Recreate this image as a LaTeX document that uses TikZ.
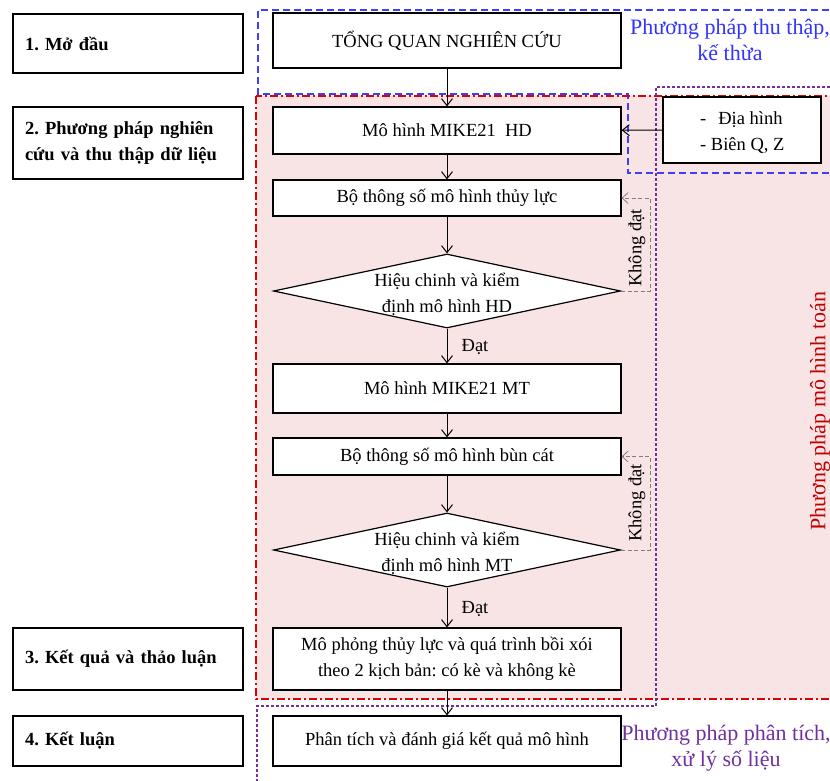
\documentclass[tikz,border=0pt]{standalone}
\usepackage{fontspec}
\setmainfont{Liberation Serif}
\usetikzlibrary{arrows.meta,shapes.geometric}
\definecolor{pinkbg}{HTML}{F8E4E4}
\definecolor{bluedash}{HTML}{3F3FF5}
\definecolor{bluetext}{HTML}{3333FF}
\definecolor{reddash}{HTML}{E00000}
\definecolor{redtext}{HTML}{C00000}
\definecolor{purp}{HTML}{7030A0}
\definecolor{fbgray}{HTML}{7F7F7F}
\newcommand\myfs{\fontsize{18.5}{26}\selectfont}
\newcommand\annfs{\fontsize{22}{26}\selectfont}
\frenchspacing
\begin{document}
\frenchspacing
\begin{tikzpicture}[x=1pt,y=-1pt,
  box/.style={draw=black, line width=1.2pt, fill=white, inner sep=0pt, align=center, font=\myfs, minimum width=348pt},
  lbox/.style={draw=black, line width=1.2pt, fill=white, minimum width=230pt, text width=206pt, inner xsep=12pt, inner ysep=0pt, align=left, font=\bfseries\myfs},
  dia/.style={diamond, draw=black, line width=1.2pt, fill=white, inner sep=0pt, minimum width=347pt, minimum height=74pt},
  arr/.style={-{Straight Barb[length=7pt,width=11pt]}, line width=1pt},
  fb/.style={draw=fbgray, dash pattern=on 4pt off 2.5pt, line width=0.8pt, -{Straight Barb[length=6pt,width=11pt]}},
  lbl/.style={font=\myfs, inner sep=0pt},
  ann/.style={font=\annfs, align=center, inner sep=0pt}]
\useasboundingbox (0,0) rectangle (830,781);
\fill[white] (0,0) rectangle (830,781);
% regions
\fill[pinkbg] (256,96) rectangle (840,699);
\draw[bluedash, line width=1.5pt, dash pattern=on 7pt off 4pt] (840,10) -- (258,10) -- (258,94) -- (628,94) -- (628,173) -- (840,173);
\draw[reddash, line width=1.2pt, dash pattern=on 8pt off 3pt on 2pt off 3pt] (256,96) rectangle (840,699);
\draw[purp, line width=1.2pt, dash pattern=on 3pt off 2pt] (840,87) -- (656,87) -- (656,706) -- (257,706) -- (257,790);
% left boxes
\node[lbox, minimum height=59pt] (l1) at (128,43.5) {1. Mở đầu};
\node[lbox, minimum height=72pt] (l2) at (128,143) {2. Phương pháp nghiên\\cứu và thu thập dữ liệu};
\node[lbox, minimum height=62pt] (l3) at (128,659) {3. Kết quả và thảo luận};
\node[lbox, minimum height=50pt] (l4) at (128,741) {4. Kết luận};
% main flow
\node[box, minimum height=55pt] (t0) at (447,40.5) {TỔNG QUAN NGHIÊN CỨU};
\node[box, minimum height=47pt] (hd) at (447,130.5) {Mô hình MIKE21\ \ HD};
\node[box, minimum height=36pt] (tl) at (447,198) {Bộ thông số mô hình thủy lực};
\node[dia] (d1) at (447,291) {};
\node[lbl, align=center] (d1t) at (447,294) {Hiệu chinh và kiểm\\định mô hình HD};
\node[box, minimum height=49pt] (mt) at (447,388.5) {Mô hình MIKE21 MT};
\node[box, minimum height=37pt] (bc) at (447,456.5) {Bộ thông số mô hình bùn cát};
\node[dia] (d2) at (447,550) {};
\node[lbl, align=center] (d2t) at (447,553) {Hiệu chinh và kiểm\\định mô hình MT};
\node[box, minimum height=62pt] (mp) at (447,659) {Mô phỏng thủy lực và quá trình bồi xói\\theo 2 kịch bản: có kè và không kè};
\node[box, minimum height=50pt] (pt) at (447,741) {Phân tích và đánh giá kết quả mô hình};
\node[draw=black, line width=1.2pt, fill=white, minimum width=158pt, minimum height=66pt, inner sep=0pt] (dh) at (742,130) {};
\node[lbl, anchor=west, align=left] (dht) at (700,133) {-\hspace{12pt}Địa hình\\- Biên Q, Z};
% connectors
\draw[arr] (t0) -- (hd);
\draw[arr] (hd) -- (tl);
\draw[arr] (tl) -- (d1.north);
\draw[arr] (d1.south) -- (mt);
\draw[arr] (mt) -- (bc);
\draw[arr] (bc) -- (d2.north);
\draw[arr] (d2.south) -- (mp);
\draw[arr] (mp) -- (pt);
\draw[arr] (dh) -- (hd);
\draw[fb] (d1.east) -- ++(29,0) |- (tl.east);
\draw[fb] (d2.east) -- ++(29,0) |- (bc.east);
% labels
\node[lbl] (dat1) at (475,347) {Đạt};
\node[lbl] (dat2) at (475,609) {Đạt};
\node[lbl, rotate=90] (kd1) at (637,248) {Không đạt};
\node[lbl, rotate=90] (kd2) at (637,503) {Không đạt};
% annotations
\node[ann, text=bluetext] (a1) at (730,40) {Phương pháp thu thập,\\kế thừa};
\node[ann, text=redtext, rotate=90] (a2) at (820,411) {Phương pháp mô hình toán};
\node[ann, text=purp] (a3) at (726,748) {Phương pháp phân tích,\\xử lý số liệu};
\end{tikzpicture}
\end{document}
